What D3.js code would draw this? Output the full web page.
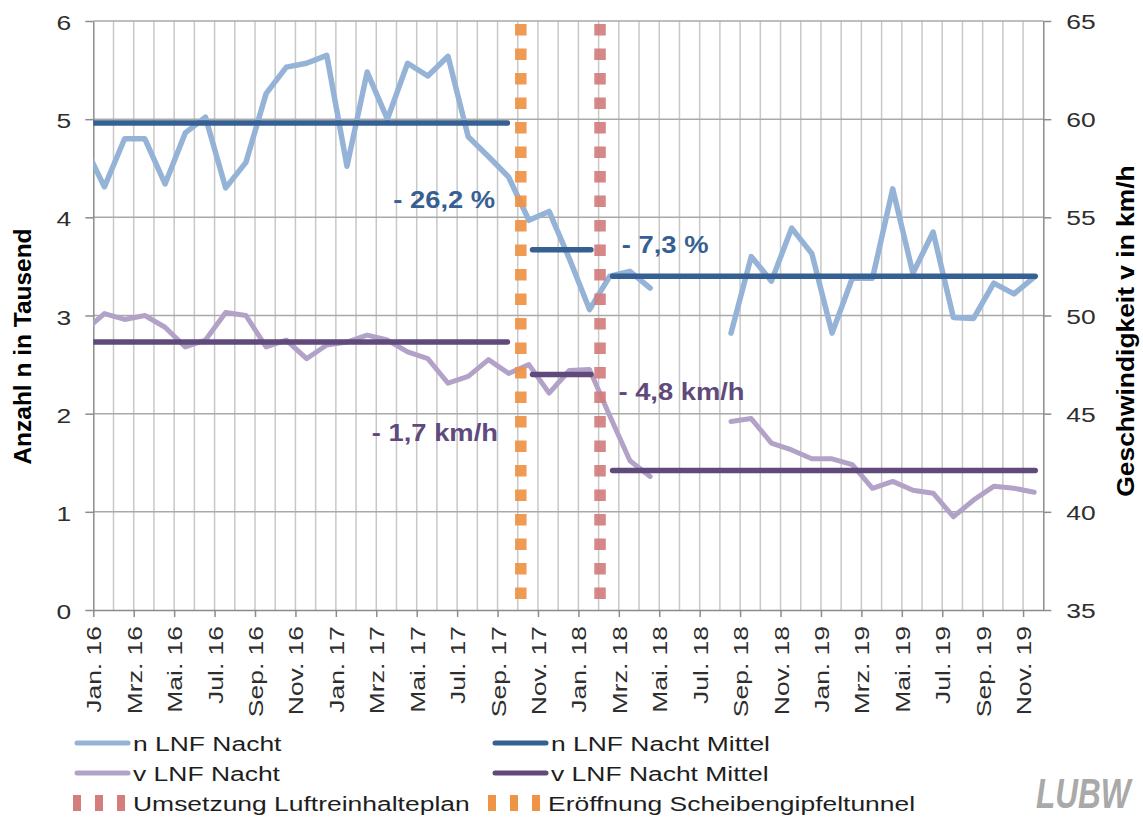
<!DOCTYPE html>
<html lang="de">
    <head>
        <meta charset="utf-8">
        <title>LNF Nacht</title>
        <script src="https://cdn.jsdelivr.net/npm/d3@7/dist/d3.min.js"></script>
        <style type="text/css">
            body { margin: 0; background: #ffffff; }
            svg text { font-family: "Liberation Sans", Arial, sans-serif; }
        </style>
    </head>
    <body>
        <script type="text/javascript">

            // Monatswerte Dez. 15 bis Nov. 19 (Punkt jeweils in der Monatsmitte)
            var ersterMonat = -1;
            var nNacht = [4.73, 4.31, 4.80, 4.80, 4.34, 4.86, 5.02, 4.30, 4.56, 5.26, 5.53, 5.57, 5.65,
                          4.52, 5.48, 5.00, 5.57, 5.44, 5.64, 4.82, 4.62, 4.41, 3.97, 4.06, 3.58,
                          3.06, 3.40, 3.45, 3.28, null, null, null, 2.82, 3.60, 3.35, 3.89, 3.63,
                          2.82, 3.38, 3.38, 4.29, 3.43, 3.85, 2.98, 2.97, 3.33, 3.22, 3.39];
            var vNacht = [49.2, 50.1, 49.8, 50.0, 49.4, 48.4, 48.75, 50.15, 50.0, 48.4, 48.75, 47.8, 48.5,
                          48.65, 49.0, 48.75, 48.15, 47.8, 46.55, 46.9, 47.75, 47.05, 47.5, 46.05, 47.2,
                          47.25, 44.9, 42.6, 41.8, null, null, null, 44.6, 44.75, 43.5, 43.15, 42.7,
                          42.7, 42.4, 41.2, 41.55, 41.1, 40.95, 39.75, 40.6, 41.3, 41.2, 41.0];

            // Mittelwerte je Zeitraum (Monate ab Jan. 16)
            var nMittel = [4.96, 3.67, 3.40];
            var vMittel = [48.65, 47.0, 42.1];
            var mittelVon = [-0.5, 21.73, 25.69];
            var mittelBis = [20.49, 24.62, 46.6];

            var ereignisName = ["Eröffnung Scheibengipfeltunnel", "Umsetzung Luftreinhalteplan"];
            var ereignisMonat = [21.15, 25.07];
            var ereignisFarbe = ["#ef9346", "#d37d7d"];

            var nText = ["- 26,2 %", "- 7,3 %"];
            var nTextMonat = [19.88, 26.15];
            var nTextWert = [4.10, 3.64];
            var vText = ["- 1,7 km/h", "- 4,8 km/h"];
            var vTextMonat = [20.02, 25.98];
            var vTextWert = [43.6, 45.7];

            var tickLabels = ["Jan. 16", "Mrz. 16", "Mai. 16", "Jul. 16", "Sep. 16", "Nov. 16",
                              "Jan. 17", "Mrz. 17", "Mai. 17", "Jul. 17", "Sep. 17", "Nov. 17",
                              "Jan. 18", "Mrz. 18", "Mai. 18", "Jul. 18", "Sep. 18", "Nov. 18",
                              "Jan. 19", "Mrz. 19", "Mai. 19", "Jul. 19", "Sep. 19", "Nov. 19"];

            var w = 1143;
            var h = 821;
            var plotLeft = 93.3, plotRight = 1043.3, plotTop = 21, plotBottom = 610;
            var mitte = 0.55;
            var fontSize = 21;
            var stretch = 1.26;

            var hellBlau = "#95b3d7", dunkelBlau = "#376092";
            var hellLila = "#b3a2c7", dunkelLila = "#604a7b";

            var svg = d3.select("body")
                .append("svg")
                .attr("width", w)
                .attr("height", h);

            var xScale = d3.scaleLinear().domain([0, 47]).range([plotLeft, plotRight]);
            var yLeft = d3.scaleLinear().domain([0, 6]).range([plotBottom, plotTop]);
            var yRight = d3.scaleLinear().domain([35, 65]).range([plotBottom, plotTop]);

            svg.append("clipPath")
                .attr("id", "plot")
                .append("rect")
                .attr("x", plotLeft)
                .attr("y", 0)
                .attr("width", plotRight - plotLeft)
                .attr("height", h);

            // Gitternetz
            svg.append("g")
                .selectAll("line")
                .data(d3.range(1, 47))
                .enter()
                .append("line")
                .attr("x1", function(d) { return xScale(d); })
                .attr("x2", function(d) { return xScale(d); })
                .attr("y1", plotTop)
                .attr("y2", plotBottom)
                .attr("stroke", "#c8c8c8")
                .attr("stroke-width", 1.5);
            svg.append("g")
                .selectAll("line")
                .data(d3.range(1, 7))
                .enter()
                .append("line")
                .attr("x1", plotLeft)
                .attr("x2", plotRight)
                .attr("y1", function(d) { return yLeft(d); })
                .attr("y2", function(d) { return yLeft(d); })
                .attr("stroke", "#a9a9a9")
                .attr("stroke-width", 1.5);

            // Achsen
            var xAxis = d3.axisBottom(xScale)
                .tickValues(d3.range(0, 47, 2))
                .tickSize(7)
                .tickSizeOuter(0)
                .tickFormat(function(d, i) { return tickLabels[i]; });
            var yAxisL = d3.axisLeft(yLeft).ticks(6).tickSize(8).tickSizeOuter(0);
            var yAxisR = d3.axisRight(yRight).tickValues(d3.range(35, 66, 5)).tickSize(8).tickSizeOuter(0);

            var gx = svg.append("g")
                .attr("transform", "translate(0," + plotBottom + ")")
                .call(xAxis);
            gx.selectAll("text")
                .attr("x", 0)
                .attr("y", 0)
                .attr("dy", "0.36em")
                .attr("text-anchor", "end")
                .attr("transform", "translate(0,16) rotate(-90) scale(" + stretch + ",1)");

            var gl = svg.append("g")
                .attr("transform", "translate(" + plotLeft + ",0)")
                .call(yAxisL);
            gl.selectAll("text")
                .attr("x", 0)
                .attr("dy", "0.36em")
                .attr("transform", "translate(-22,1) scale(" + stretch + ",1)");

            var gr = svg.append("g")
                .attr("transform", "translate(" + plotRight + ",0)")
                .call(yAxisR);
            gr.selectAll("text")
                .attr("x", 0)
                .attr("dy", "0.36em")
                .attr("transform", "translate(23,0) scale(" + stretch + ",1)");

            svg.selectAll(".domain, .tick line")
                .attr("stroke", "#8c8c8c")
                .attr("stroke-width", 1.5);
            svg.selectAll(".tick text")
                .attr("font-size", fontSize)
                .attr("fill", "#2e2e2e")
                .style("font-family", "'Liberation Sans', Arial, sans-serif");

            // Messwerte
            var nData = nNacht.map(function(v, i) { return { m: ersterMonat + i, v: v }; });
            var vData = vNacht.map(function(v, i) { return { m: ersterMonat + i, v: v }; });

            var plot = svg.append("g").attr("clip-path", "url(#plot)");

            var lineN = d3.line()
                .defined(function(d) { return d.v !== null; })
                .x(function(d) { return xScale(d.m + mitte); })
                .y(function(d) { return yLeft(d.v); });
            var lineV = d3.line()
                .defined(function(d) { return d.v !== null; })
                .x(function(d) { return xScale(d.m + mitte); })
                .y(function(d) { return yRight(d.v); });

            plot.append("path")
                .datum(vData)
                .attr("d", lineV)
                .attr("fill", "none")
                .attr("stroke", hellLila)
                .attr("stroke-width", 5)
                .attr("stroke-linejoin", "round")
                .attr("stroke-linecap", "round");
            plot.append("path")
                .datum(nData)
                .attr("d", lineN)
                .attr("fill", "none")
                .attr("stroke", hellBlau)
                .attr("stroke-width", 5.5)
                .attr("stroke-linejoin", "round")
                .attr("stroke-linecap", "round");

            // Ereignisse
            plot.selectAll(".ereignis")
                .data(ereignisMonat)
                .enter()
                .append("line")
                .attr("class", "ereignis")
                .attr("x1", function(d) { return xScale(d); })
                .attr("x2", function(d) { return xScale(d); })
                .attr("y1", plotTop + 3)
                .attr("y2", plotBottom)
                .attr("stroke", function(d, i) { return ereignisFarbe[i]; })
                .attr("stroke-width", 11.5)
                .attr("stroke-dasharray", "11.5,13")
                .attr("opacity", 0.92);

            // Mittelwerte
            plot.selectAll(".nmittel")
                .data(nMittel)
                .enter()
                .append("line")
                .attr("x1", function(d, i) { return xScale(mittelVon[i]); })
                .attr("x2", function(d, i) { return xScale(mittelBis[i]); })
                .attr("y1", function(d) { return yLeft(d); })
                .attr("y2", function(d) { return yLeft(d); })
                .attr("stroke", dunkelBlau)
                .attr("stroke-width", 5.5)
                .attr("stroke-linecap", "round");
            plot.selectAll(".vmittel")
                .data(vMittel)
                .enter()
                .append("line")
                .attr("x1", function(d, i) { return xScale(mittelVon[i]); })
                .attr("x2", function(d, i) { return xScale(mittelBis[i]); })
                .attr("y1", function(d) { return yRight(d); })
                .attr("y2", function(d) { return yRight(d); })
                .attr("stroke", dunkelLila)
                .attr("stroke-width", 5.5)
                .attr("stroke-linecap", "round");

            // Beschriftung der Veraenderungen
            svg.selectAll(".ntext")
                .data(nText)
                .enter()
                .append("text")
                .attr("text-anchor", function(d, i) { return i === 0 ? "end" : "start"; })
                .attr("transform", function(d, i) {
                    return "translate(" + xScale(nTextMonat[i]) + "," + yLeft(nTextWert[i]) + ") scale(1.14,1)";
                })
                .attr("font-size", 24)
                .attr("font-weight", "bold")
                .attr("fill", dunkelBlau)
                .text(function(d) { return d; });
            svg.selectAll(".vtext")
                .data(vText)
                .enter()
                .append("text")
                .attr("text-anchor", function(d, i) { return i === 0 ? "end" : "start"; })
                .attr("transform", function(d, i) {
                    return "translate(" + xScale(vTextMonat[i]) + "," + yRight(vTextWert[i]) + ") scale(1.14,1)";
                })
                .attr("font-size", 24)
                .attr("font-weight", "bold")
                .attr("fill", dunkelLila)
                .text(function(d) { return d; });

            // Achsentitel
            svg.append("text")
                .attr("transform", "translate(22.5,346.5) rotate(-90) scale(1.02,1)")
                .attr("text-anchor", "middle")
                .attr("dy", "0.36em")
                .attr("font-size", 24)
                .attr("font-weight", "bold")
                .attr("fill", "#000000")
                .text("Anzahl n in Tausend");
            svg.append("text")
                .attr("transform", "translate(1125,331) rotate(-90) scale(1.1,1)")
                .attr("text-anchor", "middle")
                .attr("dy", "0.36em")
                .attr("font-size", 24)
                .attr("font-weight", "bold")
                .attr("fill", "#000000")
                .text("Geschwindigkeit v in km/h");

            // Legende
            var legende = [
                { name: "n LNF Nacht", farbe: hellBlau, art: "linie", x: 75, y: 743 },
                { name: "n LNF Nacht Mittel", farbe: dunkelBlau, art: "linie", x: 493, y: 743 },
                { name: "v LNF Nacht", farbe: hellLila, art: "linie", x: 75, y: 773 },
                { name: "v LNF Nacht Mittel", farbe: dunkelLila, art: "linie", x: 493, y: 773 },
                { name: ereignisName[1], farbe: ereignisFarbe[1], art: "punkte", x: 73, y: 803 },
                { name: ereignisName[0], farbe: ereignisFarbe[0], art: "punkte", x: 488, y: 803 }
            ];
            var lg = svg.append("g")
                .selectAll("g")
                .data(legende)
                .enter()
                .append("g")
                .attr("transform", function(d) { return "translate(" + d.x + "," + d.y + ")"; });
            lg.append("line")
                .attr("x1", function(d) { return d.art === "linie" ? 2 : 0; })
                .attr("x2", function(d) { return d.art === "linie" ? 53 : 56; })
                .attr("y1", 0)
                .attr("y2", 0)
                .attr("stroke", function(d) { return d.farbe; })
                .attr("stroke-width", function(d) { return d.art === "linie" ? 5 : 16; })
                .attr("stroke-linecap", function(d) { return d.art === "linie" ? "round" : "butt"; })
                .attr("stroke-dasharray", function(d) { return d.art === "linie" ? null : "8,14"; });
            lg.append("text")
                .attr("dy", "0.36em")
                .attr("transform", function(d) { return "translate(" + (d.art === "linie" ? 58 : 60) + ",0) scale(" + stretch + ",1)"; })
                .attr("font-size", fontSize)
                .attr("fill", "#1e1e1e")
                .text(function(d) { return d.name; });

            // Logo
            svg.append("text")
                .attr("transform", "translate(1036,808) scale(1.05,1.4)")
                .attr("font-size", 30)
                .attr("font-weight", "bold")
                .attr("font-style", "italic")
                .attr("fill", "#a9a9a9")
                .text("LUBW");

        </script>
    </body>
</html>
